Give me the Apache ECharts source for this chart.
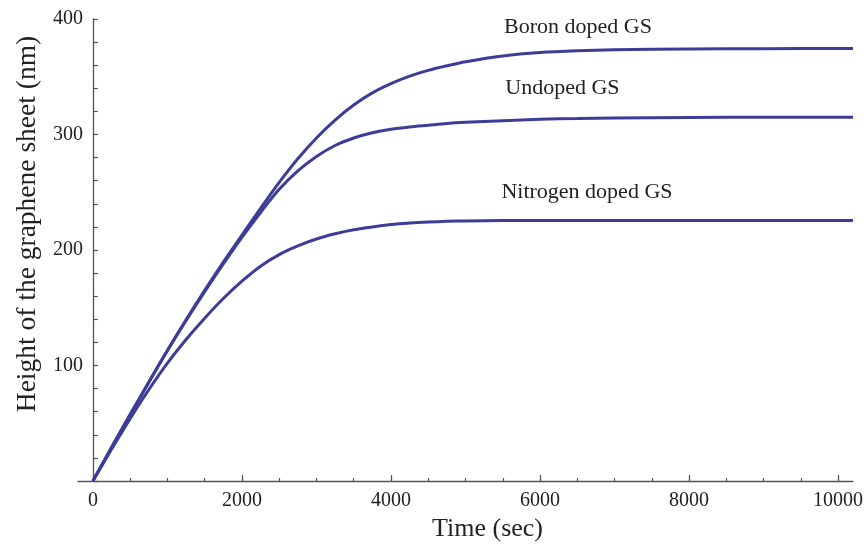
<!DOCTYPE html>
<html>
<head>
<meta charset="utf-8">
<script src="https://cdn.jsdelivr.net/npm/echarts@6/dist/echarts.min.js"></script>
<style>
  html, body { margin: 0; padding: 0; background: #ffffff; }
  #chart { width: 866px; height: 548px; }
</style>
</head>
<body>
<div id="chart"></div>
<script>
// ---- data ----
const timeSec = [0, 250, 500, 750, 1000, 1250, 1500, 1750, 2000, 2250, 2500, 2750, 3000, 3250, 3500, 3750, 4000, 4250, 4500, 4750, 5000, 5500, 6000, 6500, 7000, 8000, 9000, 10200];
const boronHeight    = [0, 29, 57.5, 85.5, 113, 139.5, 165, 189.5, 213, 236, 258.5, 279, 297, 312.5, 325.5, 336, 344, 350.5, 355.5, 359.5, 363, 368, 371, 372.5, 373.3, 374, 374.3, 374.5];
const undopedHeight  = [0, 29, 57.5, 85.5, 113, 139, 164, 188, 211, 232.5, 252.5, 268.5, 281, 290.5, 297, 301.5, 304.5, 306.5, 308, 309.5, 310.5, 312, 313.2, 313.8, 314.3, 314.8, 315, 315];
const nitrogenHeight = [0, 27.5, 54, 79, 102, 122.5, 141, 158, 173, 186, 196, 203.5, 209.5, 214, 217.5, 220, 222, 223.3, 224.2, 224.8, 225.2, 225.5, 225.6, 225.6, 225.6, 225.6, 225.6, 225.6];

const seriesNames = ['Boron doped GS', 'Undoped GS', 'Nitrogen doped GS'];
// annotation anchor points (time, height) for the curve labels
const annotationPos = [[6510, 393], [6300, 340], [6630, 250]];

const xTickLabels = [0, 2000, 4000, 6000, 8000, 10000];
const xMinorTicks = [0, 500, 1000, 1500, 2000, 2500, 3000, 3500, 4000, 4500, 5000, 5500, 6000, 6500, 7000, 7500, 8000, 8500, 9000, 9500, 10000];
const yTickLabels = [0, 100, 200, 300, 400];

const xTitle = 'Time (sec)';
const yTitle = 'Height of the graphene sheet (nm)';

// ---- chart ----
const FONT = '"Liberation Serif", "Times New Roman", serif';
const LINE_COLOR = '#3d3d99';
const AXIS_COLOR = '#555555';
const TEXT_COLOR = '#222222';

function pairs(xs, ys) { return xs.map((x, i) => [x, ys[i]]); }

const allSeries = [boronHeight, undopedHeight, nitrogenHeight];

const chart = echarts.init(document.getElementById('chart'), null, { renderer: 'canvas' });

const series = allSeries.map((vals, i) => ({
  name: seriesNames[i],
  type: 'line',
  xAxisIndex: 0,
  yAxisIndex: 0,
  data: pairs(timeSec, vals),
  smooth: 0.3,
  showSymbol: false,
  symbol: 'none',
  lineStyle: { color: LINE_COLOR, width: 3 },
  itemStyle: { color: LINE_COLOR },
  z: 3,
  silent: true,
  markPoint: {
    symbol: 'circle',
    symbolSize: 0,
    silent: true,
    label: {
      show: true,
      position: 'inside',
      formatter: seriesNames[i],
      fontFamily: FONT,
      fontSize: 22,
      color: TEXT_COLOR
    },
    data: [{ coord: annotationPos[i] }]
  }
}));

chart.setOption({
  backgroundColor: '#ffffff',
  animation: false,
  grid: { left: 78, right: 13, top: 19, bottom: 67, containLabel: false, outerBoundsMode: 'none' },
  xAxis: [
    {
      type: 'value',
      min: -200,
      max: 10200,
      position: 'bottom',
      name: xTitle,
      nameLocation: 'middle',
      nameGap: 35,
      nameTextStyle: { fontFamily: FONT, fontSize: 26, color: TEXT_COLOR, padding: [0, 0, 0, 44] },
      axisLine: { show: true, onZero: true, lineStyle: { color: AXIS_COLOR, width: 1.3 } },
      axisTick: { show: true, inside: true, length: 3, customValues: xMinorTicks, lineStyle: { color: AXIS_COLOR, width: 1.2 } },
      axisLabel: {
        show: true, margin: 10, customValues: xTickLabels, fontFamily: FONT, fontSize: 20, color: TEXT_COLOR,
        formatter: (v) => String(v)
      },
      splitLine: { show: false }
    },
    {
      type: 'value',
      min: -200,
      max: 10200,
      position: 'bottom',
      axisLine: { show: false, onZero: true },
      axisTick: { show: true, inside: true, length: 6, customValues: xTickLabels, lineStyle: { color: AXIS_COLOR, width: 1.2 } },
      axisLabel: { show: false },
      splitLine: { show: false }
    }
  ],
  yAxis: {
    type: 'value',
    min: 0,
    max: 400,
    interval: 100,
    name: yTitle,
    nameLocation: 'middle',
    nameGap: 36,
    nameTextStyle: { fontFamily: FONT, fontSize: 27.5, color: TEXT_COLOR, padding: [0, 0, 0, 52] },
    axisLine: { show: true, onZero: true, lineStyle: { color: AXIS_COLOR, width: 1.3 } },
    axisTick: { show: true, inside: true, length: 5, lineStyle: { color: AXIS_COLOR, width: 1.2 } },
    minorTick: { show: true, splitNumber: 5, length: 5, lineStyle: { color: AXIS_COLOR, width: 1.2 } },
    axisLabel: {
      show: true, margin: -5, fontFamily: FONT, fontSize: 20, color: TEXT_COLOR,
      formatter: (v) => (v === 0 ? '' : String(v))
    },
    splitLine: { show: false },
    minorSplitLine: { show: false }
  },
  series: series
});
</script>
</body>
</html>
